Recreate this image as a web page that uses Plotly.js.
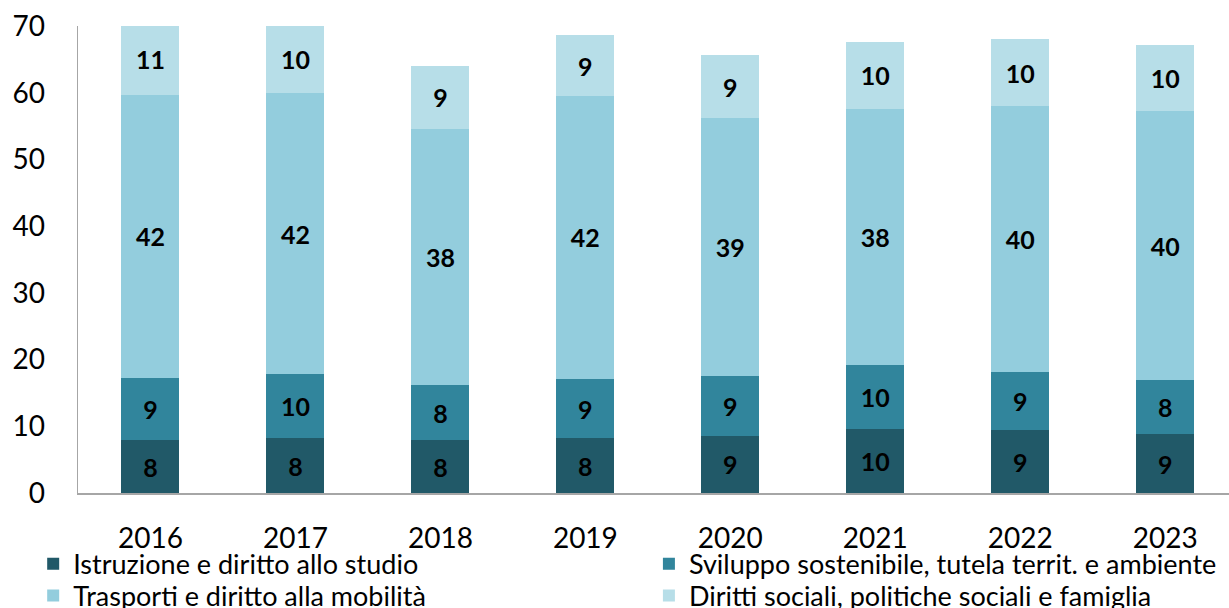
<!DOCTYPE html>
<html><head><meta charset="utf-8">
<script src="https://cdn.plot.ly/plotly-3.0.1.min.js"></script>
<style>html,body{margin:0;padding:0;background:#fff}#chart{width:1229px;height:608px}</style>
</head><body><div id="chart"></div>
<script>
const years = ['2016','2017','2018','2019','2020','2021','2022','2023'];
const istruzione = [7.9, 8.2, 7.9, 8.2, 8.6, 9.6, 9.4, 8.8];
const sviluppo   = [9.4, 9.6, 8.3, 8.9, 9.0, 9.6, 8.7, 8.1];
const trasporti  = [42.4, 42.1, 38.4, 42.4, 38.6, 38.4, 39.9, 40.3];
const diritti    = [10.6, 10.2, 9.4, 9.1, 9.4, 10.0, 10.0, 10.0];
const names = ['Istruzione e diritto allo studio','Sviluppo sostenibile, tutela territ. e ambiente','Trasporti e diritto alla mobilità','Diritti sociali, politiche sociali e famiglia'];
const colors = ['#215968','#31859C','#93CDDD','#B7DEE8'];
const series = [istruzione, sviluppo, trasporti, diritti];
const legendIds = ['legend','legend2','legend3','legend4'];
const FONT = 'Lato, "Open Sans", sans-serif';
const traces = series.map((s,i)=>({
  type:'bar', x: years, y: s, name: names[i],
  marker:{color: colors[i], line:{width:0}},
  texttemplate:'%{y:.0f}', textposition:'inside', insidetextanchor:'middle',
  textfont:{family:FONT, size:25, color:'#000', weight:'bold'},
  constraintext:'none', cliponaxis:true,
  legend: legendIds[i], hoverinfo:'skip'
}));
function leg(x, y){
  return {orientation:'h', xref:'container', yref:'container', x:x, y:y, xanchor:'left', yanchor:'middle',
    font:{family:FONT, size:27, color:'#000'}, bgcolor:'rgba(0,0,0,0)', borderwidth:0,
    itemclick:false, itemdoubleclick:false};
}
const layout = {
  width:1229, height:608,
  margin:{l:78, r:0, t:26, b:115},
  paper_bgcolor:'#fff', plot_bgcolor:'#fff',
  barmode:'stack', bargap:0.6,
  showlegend:true,
  legend: leg(0.027, 0.072),
  legend2: leg(0.528, 0.072),
  legend3: leg(0.027, 0.0197),
  legend4: leg(0.528, 0.0197),
  xaxis:{type:'category', range:[-0.5, 7.44], showline:true, linecolor:'#a6a6a6', linewidth:1.5,
    ticks:'', ticklabelstandoff:20, tickfont:{family:FONT, size:28, color:'#000'}, showgrid:false, zeroline:false, fixedrange:true},
  yaxis:{range:[0,70], dtick:10, showline:true, linecolor:'#a6a6a6', linewidth:1.5, ticks:'', ticklabelstandoff:26,
    tickfont:{family:FONT, size:28, color:'#000'}, showgrid:false, zeroline:false, fixedrange:true},
  font:{family:FONT}
};
Plotly.newPlot('chart', traces, layout, {displayModeBar:false, staticPlot:true});
</script></body></html>
